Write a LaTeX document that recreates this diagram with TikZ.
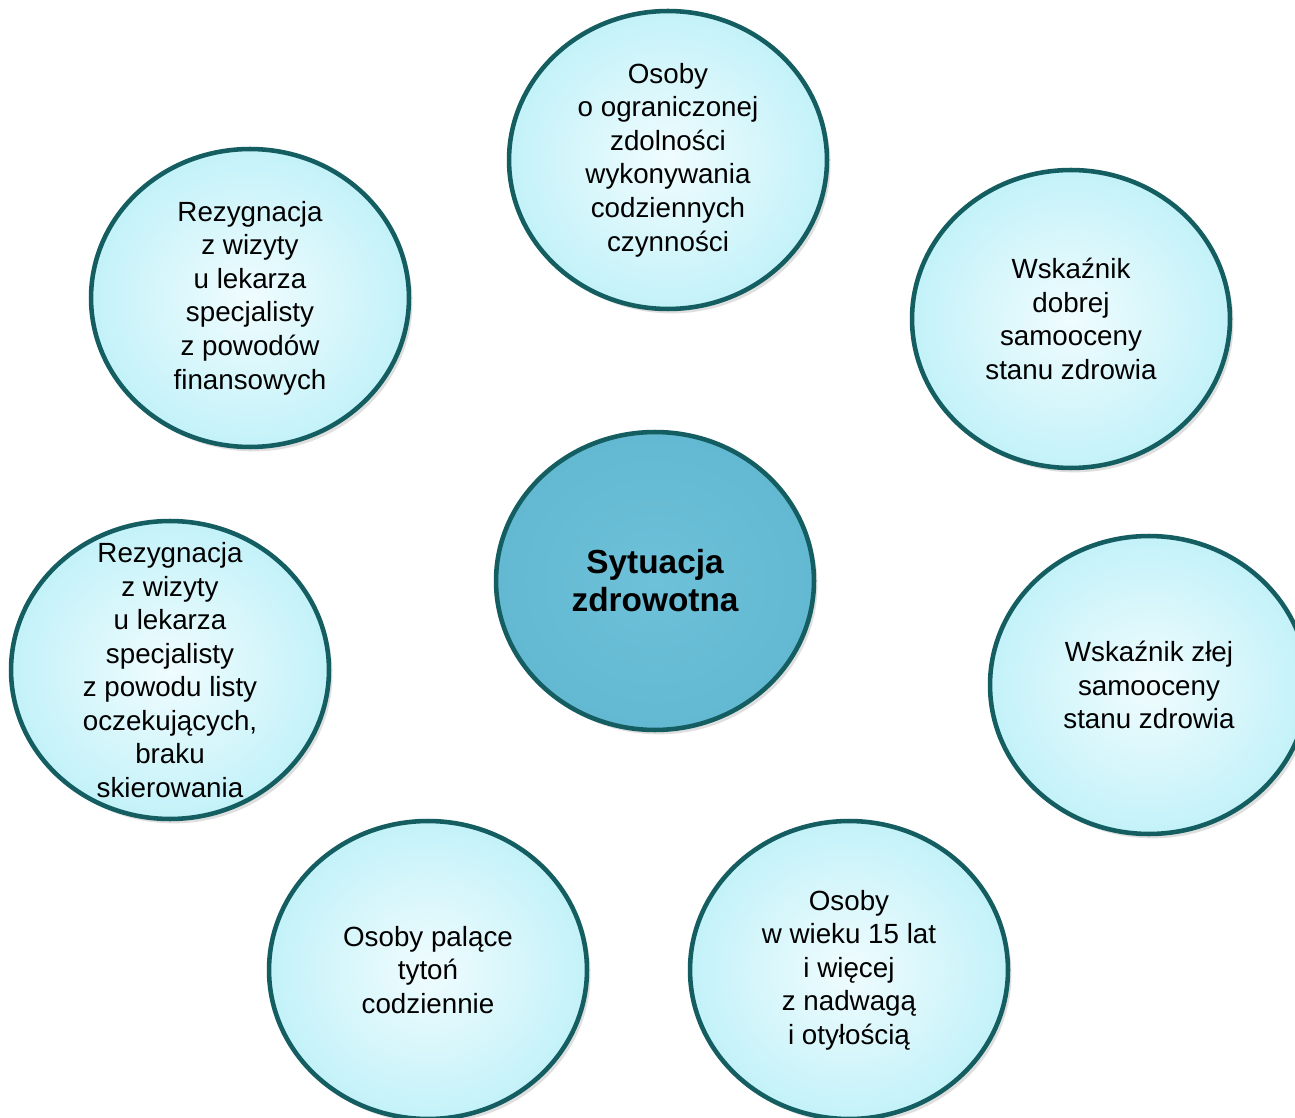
\documentclass[tikz,border=0pt]{standalone}
\usepackage{fontspec}
\setmainfont{Liberation Sans}
\usepackage{tikz}
\usetikzlibrary{shapes.geometric}
\usetikzlibrary{shadows}

\definecolor{rim}{HTML}{145E62}
\definecolor{bubblein}{HTML}{F0FCFE}
\definecolor{bubbleout}{HTML}{C3F2F9}
\definecolor{hubin}{HTML}{6DC1D9}
\definecolor{hubout}{HTML}{63B9D2}

\begin{document}
\begin{tikzpicture}[x=0.02cm,y=-0.02cm,
  bubble/.style={ellipse,draw=rim,line width=2.6pt,inner sep=0pt,
    minimum width=6.36cm,minimum height=5.96cm,align=center,
    font=\fontsize{15.8}{19.1}\selectfont,
    inner color=bubblein,outer color=bubbleout,
    drop shadow={opacity=0.25,shadow xshift=2pt,shadow yshift=-2.5pt}},
  hub/.style={bubble,inner color=hubin,outer color=hubout,
    font=\fontsize{19}{21.6}\selectfont\bfseries},
  caption/.style={align=center,inner sep=0pt,font=\fontsize{15.8}{19.1}\selectfont}]
\clip (0,0) rectangle (1295,1118);
\fill[white] (0,0) rectangle (1295,1118);
% outer ring
\node[bubble] (daily) at (668,160) {Osoby\\o ograniczonej\\zdolności\\wykonywania\\codziennych\\czynności};
\node[bubble] (good) at (1071,319) {Wskaźnik\\dobrej\\samooceny\\stanu zdrowia};
\node[bubble] (bad) at (1149,685) {Wskaźnik złej\\samooceny\\stanu zdrowia};
\node[bubble] (weight) at (849,970) {Osoby\\w wieku 15 lat\\i więcej\\z nadwagą\\i otyłością};
\node[bubble] (smoke) at (428,970) {Osoby palące\\tytoń\\codziennie};
\node[bubble] (queue) at (170,670) {};
\node[caption] (queuetext) at (queue) {Rezygnacja\\z wizyty\\u lekarza\\specjalisty\\z powodu listy\\oczekujących,\\braku\\skierowania};
\node[bubble] (money) at (250,298) {Rezygnacja\\z wizyty\\u lekarza\\specjalisty\\z powodów\\finansowych};
% centre
\node[hub] (health) at (655,581) {Sytuacja\\zdrowotna};
\end{tikzpicture}
\end{document}
